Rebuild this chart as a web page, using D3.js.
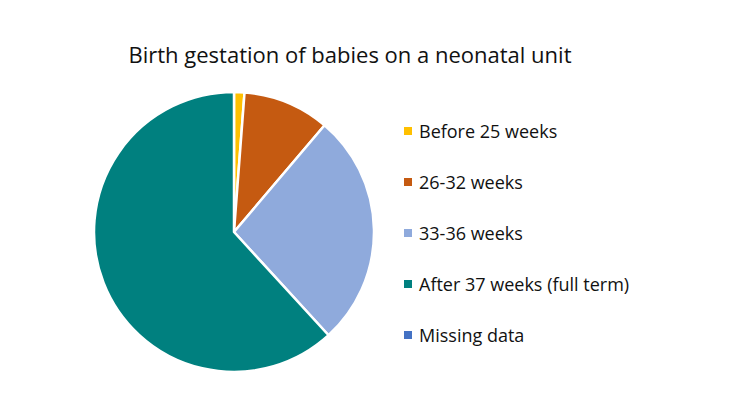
<!DOCTYPE html>
<html>
<head>
<meta charset="utf-8">
<script src="https://cdn.jsdelivr.net/npm/d3@7"></script>
<style>
  body { margin: 0; background: #fff; }
  text { font-family: "Open Sans", sans-serif; fill: #111; }
</style>
</head>
<body>
<div id="vis"></div>
<script>
// chart data
var categories = ["Before 25 weeks", "26-32 weeks", "33-36 weeks", "After 37 weeks (full term)", "Missing data"];
var values = [1.2, 10, 27, 61.8, 0];
var colors = ["#FFC000", "#C55A11", "#8FAADC", "#00807F", "#4472C4"];

var width = 740;
var height = 408;

var svg = d3.select("#vis").append("svg")
  .attr("width", width)
  .attr("height", height);

// title
svg.append("text")
  .attr("x", 350)
  .attr("y", 63)
  .attr("text-anchor", "middle")
  .style("font-size", "22px")
  .text("Birth gestation of babies on a neonatal unit");

var color = d3.scaleOrdinal().domain(categories).range(colors);

var pie = d3.pie().sort(null).value(function (d) { return d.value; });
var arc = d3.arc().innerRadius(0).outerRadius(140);

var data = categories.map(function (c, i) { return { name: c, value: values[i] }; });

var g = svg.append("g").attr("transform", "translate(234,232)");

g.selectAll("path")
  .data(pie(data).filter(function (d) { return d.data.value > 0; }))
  .enter().append("path")
  .attr("d", arc)
  .attr("fill", function (d) { return color(d.data.name); })
  .attr("stroke", "#fff")
  .attr("stroke-width", 2.5)
  .attr("stroke-linejoin", "round");

// legend
var legendY = d3.scalePoint().domain(categories).range([131, 335]);

var legend = svg.append("g");
var rows = legend.selectAll("g")
  .data(categories)
  .enter().append("g")
  .attr("transform", function (d) { return "translate(404," + legendY(d) + ")"; });

rows.append("rect")
  .attr("x", 0)
  .attr("y", -4)
  .attr("width", 8)
  .attr("height", 8)
  .attr("fill", function (d) { return color(d); });

rows.append("text")
  .attr("x", 15)
  .attr("y", 6.5)
  .style("font-size", "18px")
  .text(function (d) { return d; });
</script>
</body>
</html>
